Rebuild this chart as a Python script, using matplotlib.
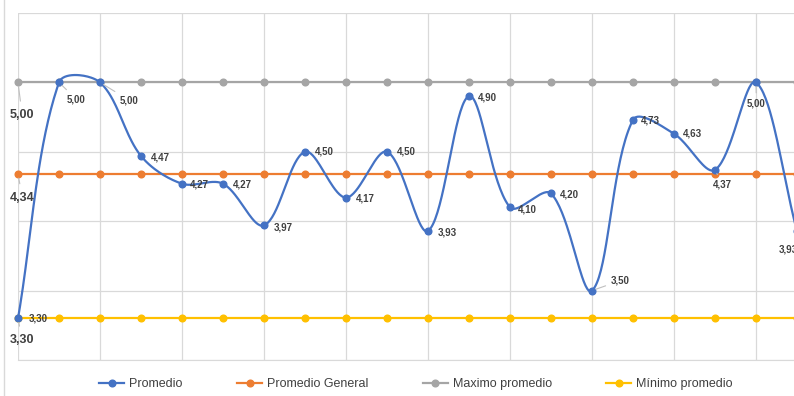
import numpy as np
import matplotlib
matplotlib.use('Agg')
import matplotlib.pyplot as plt
from matplotlib.lines import Line2D

# values per evaluation
promedio = [3.30, 5.00, 5.00, 4.47, 4.27, 4.27, 3.97, 4.50, 4.17, 4.50,
            3.93, 4.90, 4.10, 4.20, 3.50, 4.73, 4.63, 4.37, 5.00, 3.93]
promedio_general = [4.34] * len(promedio)
maximo = [5.00] * len(promedio)
minimo = [3.30] * len(promedio)

series_names = ['Promedio', 'Promedio General', 'Maximo promedio', 'Mínimo promedio']
colors = ['#4472C4', '#ED7D31', '#A5A5A5', '#FFC000']

# label offsets in pixels (dx, dy), dy positive = up
label_off = [(11, 0), (8, -17), (20, -18), (10, -2), (8, -1), (10, -1), (10, -2),
             (10, 0), (10, -1), (10, 0), (10, -2), (9, -1), (8, -2), (9, -1),
             (19, 10), (8, -1), (9, 0), (-2, -15), (-9, -21), (-18, -19)]
leader = {1, 2, 14, 17, 18}


def fmt(v):
    return '{:.2f}'.format(v).replace('.', ',')


def smooth(ax, x, y, n=40):
    # bezier smoothing done in screen space, tangents weighted by chord length
    P = ax.transData.transform(np.column_stack([x, y]).astype(float))
    P = np.vstack([P[0], P, P[-1]])
    t = np.linspace(0, 1, n)[:, None]
    out = []
    for i in range(1, len(P) - 2):
        p0, p3 = P[i], P[i + 1]
        d0 = np.hypot(*(P[i] - P[i - 1]))
        d1 = np.hypot(*(P[i + 1] - P[i]))
        d2 = np.hypot(*(P[i + 2] - P[i + 1]))
        k1 = d1 / (d0 + d1) / 3 if d0 + d1 > 0 else 0
        k2 = d1 / (d1 + d2) / 3 if d1 + d2 > 0 else 0
        p1 = p0 + (P[i + 1] - P[i - 1]) * k1
        p2 = p3 - (P[i + 2] - P[i]) * k2
        b = (1 - t) ** 3 * p0 + 3 * (1 - t) ** 2 * t * p1 + 3 * (1 - t) * t ** 2 * p2 + t ** 3 * p3
        out.append(b)
    pts = ax.transData.inverted().transform(np.vstack(out))
    return pts[:, 0], pts[:, 1]


W, H = 794, 396
fig = plt.figure(figsize=(W / 100, H / 100), dpi=100)
ax = fig.add_axes([18 / W, 1 - 360 / H, (797 - 18) / W, (360 - 13) / H])
x = np.arange(len(promedio))
ax.set_xlim(0, len(promedio) - 1)
ax.set_ylim(3.0, 5.5)

for vals, c in zip([promedio_general, maximo, minimo], colors[1:]):
    ax.plot(x, vals, color=c, lw=1.6, marker='o', ms=4.8, zorder=3, clip_on=False)

sx, sy = smooth(ax, x, promedio)
ax.plot(sx, sy, color=colors[0], lw=1.6, zorder=4, clip_on=False)
ax.plot(x, promedio, ls='none', marker='o', ms=4.8, color=colors[0], zorder=5, clip_on=False)

for i, v in enumerate(promedio):
    dx, dy = label_off[i]
    ap = dict(arrowstyle='-', color='#BFBFBF', lw=0.8, shrinkA=2, shrinkB=3) if i in leader else None
    ax.annotate(fmt(v), (i, v), xytext=(dx, dy), textcoords='offset pixels',
                ha='left', va='center', fontsize=7, fontweight='bold',
                color='#404040', family='Liberation Sans', arrowprops=ap,
                annotation_clip=False, zorder=6)

# labels on the reference lines, first point only
for v, dy in zip([maximo[0], promedio_general[0], minimo[0]], [-33, -24, -22]):
    ax.annotate(fmt(v), (0, v), xytext=(-8, dy), textcoords='offset pixels',
                ha='left', va='center', fontsize=9, fontweight='bold',
                color='#404040', family='Liberation Sans',
                arrowprops=dict(arrowstyle='-', color='#BFBFBF', lw=0.8, shrinkA=4, shrinkB=3),
                annotation_clip=False, zorder=6)

ax.set_yticks(np.arange(3.0, 5.51, 0.5))
ax.set_xticks(np.arange(0, len(promedio), 2))
ax.grid(True, color='#D9D9D9', lw=0.9)
ax.tick_params(left=False, bottom=False, labelleft=False, labelbottom=False)
for s in ['top', 'right', 'left']:
    ax.spines[s].set_visible(False)
ax.spines['bottom'].set_color('#D9D9D9')
ax.set_axisbelow(True)

# outer border on the left
fig.add_artist(Line2D([4 / W, 4 / W], [0, 1], color='#D9D9D9', lw=1))

handles = [Line2D([], [], color=c, lw=1.6, marker='o', ms=4.8) for c in colors]
leg = fig.legend(handles, series_names, loc='center', bbox_to_anchor=(416 / W, 1 - 384 / H),
                 ncol=4, frameon=False, handlelength=2.0, handletextpad=0.4,
                 columnspacing=4.35, prop={'family': 'Liberation Sans', 'size': 9})
for t in leg.get_texts():
    t.set_color('#404040')

fig.savefig('out.png', dpi=100)
